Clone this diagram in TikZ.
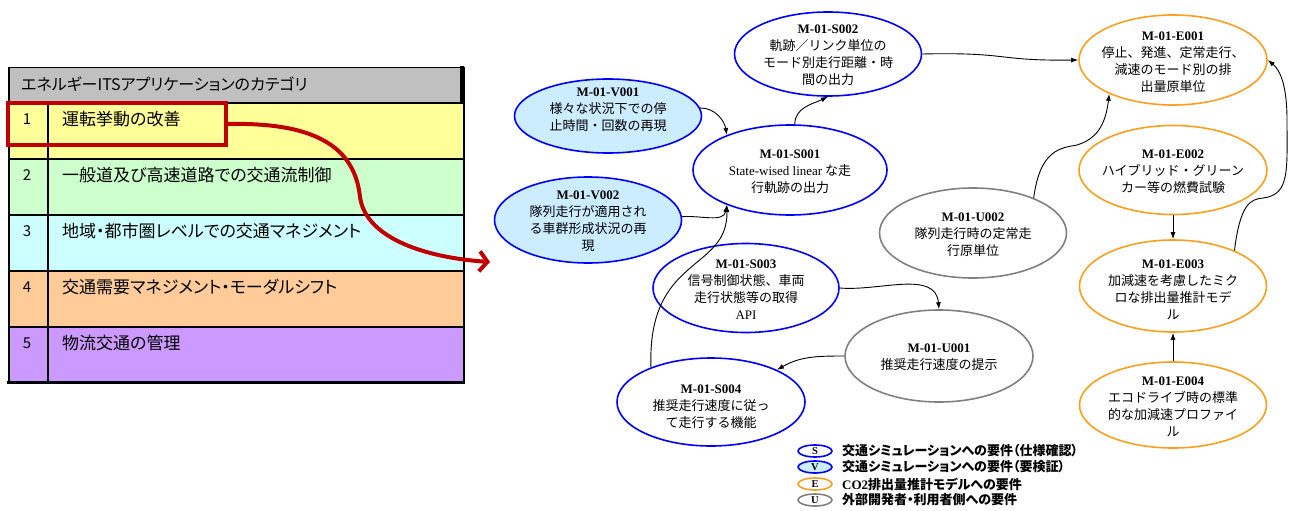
\documentclass[tikz,border=0pt]{standalone}
\usepackage{fontspec}
\setmainfont{Liberation Serif}
\newfontfamily\jp{Noto Sans CJK JP}
\newfontfamily\jpp[RawFeature=+palt]{Noto Sans CJK JP}
\usetikzlibrary{shapes.geometric,arrows.meta}
\definecolor{sblue}{RGB}{0,0,255}
\definecolor{vfill}{RGB}{204,236,255}
\definecolor{eorange}{RGB}{250,160,30}
\definecolor{ugray}{RGB}{128,128,128}
\definecolor{hgray}{RGB}{192,192,192}
\definecolor{ry}{RGB}{255,255,153}
\definecolor{rg}{RGB}{204,255,204}
\definecolor{rc}{RGB}{204,255,255}
\definecolor{ro}{RGB}{255,204,153}
\definecolor{rp}{RGB}{204,153,255}
\definecolor{dred}{RGB}{192,0,0}
\newcommand{\idf}[1]{{\rmfamily\bfseries #1}}
\newcommand{\lat}[1]{{\rmfamily #1}}
\begin{document}
\begin{tikzpicture}[x=1pt,y=-1pt,
  ell/.style={ellipse, line width=1.6pt, inner sep=0, fill=white},
  sreq/.style={ell, draw=sblue},
  vreq/.style={ell, draw=sblue, fill=vfill},
  ereq/.style={ell, draw=eorange},
  ureq/.style={ell, draw=ugray},
  etxt/.style={align=center, inner sep=0, font=\jp\fontsize{13}{17}\selectfont},
  conn/.style={-{Latex[length=7pt,width=5pt]}, line width=0.9pt, black},
  trow/.style={rectangle, draw=black, line width=1.5pt, minimum width=455, minimum height=56, inner sep=0, anchor=north west},
  ttxt/.style={anchor=west, inner sep=0, font=\jpp\fontsize{17}{17}\selectfont},
  tnum/.style={inner sep=0, font=\jp\fontsize{15}{15}\selectfont},
  lege/.style={ellipse, line width=1.6pt, minimum width=34, minimum height=12, inner sep=0, font=\rmfamily\bfseries\fontsize{10.5}{10.5}\selectfont},
  legt/.style={anchor=west, inner sep=0, font=\jpp\bfseries\fontsize{13}{13}\selectfont}
]
\useasboundingbox (0,0) rectangle (1291,511);

% ---------- table ----------
\node[trow, fill=hgray, minimum height=35] (hdr) at (8,67) {};
\node[trow, fill=ry] (row1) at (8,102) {};
\node[trow, fill=rg] (row2) at (8,158) {};
\node[trow, fill=rc] (row3) at (8,214) {};
\node[trow, fill=ro] (row4) at (8,270) {};
\node[trow, fill=rp] (row5) at (8,326) {};
\draw[line width=1.5pt] (48,102) -- (48,382);
\draw[line width=4pt] (462,66) -- (462,103);
\draw[line width=3pt] (7,382) -- (464,382);

\node[ttxt, font=\jpp\fontsize{16}{16}\selectfont] (hdrt) at (21,84) {エネルギーITSアプリケーションのカテゴリ};
\node[tnum] (n1) at (27,119) {1};
\node[tnum] (n2) at (27,175) {2};
\node[tnum] (n3) at (27,231) {3};
\node[tnum] (n4) at (27,287) {4};
\node[tnum] (n5) at (27,343) {5};
\node[ttxt] (t1) at (62,119) {運転挙動の改善};
\node[ttxt] (t2) at (62,175) {一般道及び高速道路での交通流制御};
\node[ttxt] (t3) at (62,231) {地域・都市圏レベルでの交通マネジメント};
\node[ttxt] (t4) at (62,287) {交通需要マネジメント・モーダルシフト};
\node[ttxt] (t5) at (62,343) {物流交通の管理};

\node[draw=dred, line width=4pt, minimum width=218, minimum height=42, inner sep=0, anchor=north west] (redbox) at (6,101) {};
\coordinate (redtip) at (490,262);
\draw[dred, line width=4pt, -{Straight Barb[length=8pt,width=20pt]}]
  (redbox.east) .. controls (320,122) and (355,150) .. (360,197)
  .. controls (366,240) and (430,258) .. (redtip);

% ---------- ellipses ----------
\node[vreq, minimum width=187, minimum height=74] (v001) at (608,116) {};
\node[etxt] (v001t) at (608,110) {\idf{M-01-V001}\\様々な状況下での停\\止時間・回数の再現};

\node[vreq, minimum width=187, minimum height=86] (v002) at (588,220) {};
\node[etxt] (v002t) at (588,221) {\idf{M-01-V002}\\隊列走行が適用され\\る車群形成状況の再\\現};

\node[sreq, minimum width=194, minimum height=90] (s001) at (790,170) {};
\node[etxt] (s001t) at (790,172) {\idf{M-01-S001}\\\lat{State-wised linear} な走\\行軌跡の出力};

\node[sreq, minimum width=187, minimum height=84] (s002) at (828,54) {};
\node[etxt] (s002t) at (828,55) {\idf{M-01-S002}\\軌跡／リンク単位の\\モード別走行距離・時\\間の出力};

\node[sreq, minimum width=186, minimum height=89] (s003) at (746,288) {};
\node[etxt] (s003t) at (746,290) {\idf{M-01-S003}\\信号制御状態、車両\\走行状態等の取得\\\lat{API}};

\node[sreq, minimum width=188, minimum height=88] (s004) at (711,402) {};
\node[etxt] (s004t) at (711,407) {\idf{M-01-S004}\\推奨走行速度に従っ\\て走行する機能};

\node[ureq, minimum width=188, minimum height=92] (u001) at (939,356) {};
\node[etxt] (u001t) at (939,357) {\idf{M-01-U001}\\推奨走行速度の提示};

\node[ureq, minimum width=187, minimum height=90] (u002) at (973,233) {};
\node[etxt] (u002t) at (973,235) {\idf{M-01-U002}\\隊列走行時の定常走\\行原単位};

\node[ereq, minimum width=188, minimum height=90] (e001) at (1173,60) {};
\node[etxt] (e001t) at (1173,62) {\idf{M-01-E001}\\停止、発進、定常走行、\\減速のモード別の排\\出量原単位};

\node[ereq, minimum width=188, minimum height=89] (e002) at (1173,170) {};
\node[etxt] (e002t) at (1173,172) {\idf{M-01-E002}\\ハイブリッド・グリーン\\カー等の燃費試験};

\node[ereq, minimum width=187, minimum height=92] (e003) at (1173,286) {};
\node[etxt] (e003t) at (1173,290) {\idf{M-01-E003}\\加減速を考慮したミク\\ロな排出量推計モデ\\ル};

\node[ereq, minimum width=187, minimum height=86] (e004) at (1173,405) {};
\node[etxt] (e004t) at (1173,407) {\idf{M-01-E004}\\エコドライブ時の標準\\的な加減速プロファイ\\ル};

% ---------- connectors ----------
\draw[conn] (v001.5) to[out=0, in=100] (s001.151);
\draw[conn] (v002.2) to[out=5, in=-100] (s001.209);
\draw[conn] (s004.150) .. controls (647,255) and (728,272) .. (s001.209);
\draw[conn] (s001.84) to[out=90, in=205] (s002.south);
\draw[conn] (s003.east) to[out=-5, in=95] (u001.north);
\draw[conn] (u001.west) to[out=180, in=30] (s004.26);
\draw[conn] (s002.east) .. controls (1010,52) and (995,61) .. (e001.west);
\draw[conn] (u002.30) .. controls (1040,150) and (1060,148) .. (1077,145)
  .. controls (1100,138) and (1106,120) .. (e001.208);
\draw[conn] (e002.south) -- (e003.north);
\draw[conn] (e004.north) -- (e003.south);
\draw[conn] (e003.30) .. controls (1240,205) and (1250,199) .. (1263,198)
  .. controls (1290,195) and (1287,170) .. (1287,120)
  .. controls (1287,85) and (1280,70) .. (e001.east);

% ---------- legend ----------
\node[lege, draw=sblue, fill=white] (ls) at (815,451) {S};
\node[lege, draw=sblue, fill=vfill] (lv) at (815,467) {V};
\node[lege, draw=eorange, fill=white] (le) at (815,484) {E};
\node[lege, draw=ugray, fill=white] (lu) at (815,500) {U};
\node[legt] (lst) at (842,451) {交通シミュレーションへの要件（仕様確認）};
\node[legt] (lvt) at (842,467) {交通シミュレーションへの要件（要検証）};
\node[legt] (let) at (842,484) {\lat{CO2}排出量推計モデルへの要件};
\node[legt] (lut) at (842,500) {外部開発者・利用者側への要件};
\end{tikzpicture}
\end{document}
